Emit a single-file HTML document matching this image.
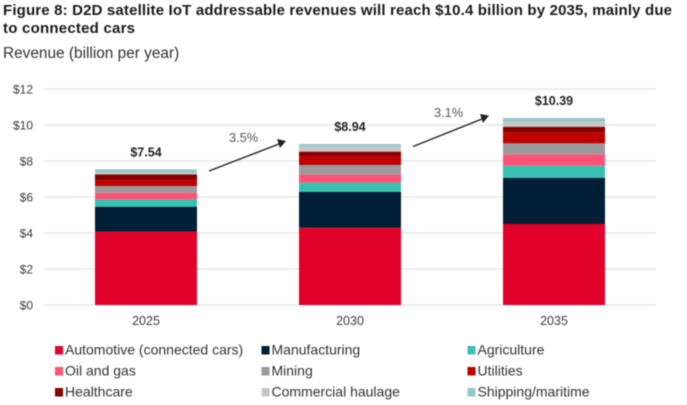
<!DOCTYPE html>
<html><head><meta charset="utf-8">
<style>
html,body{margin:0;padding:0;background:#fff;width:687px;height:405px;overflow:hidden}
svg{display:block;filter:blur(0.45px)}
text{font-family:"Liberation Sans",sans-serif}
</style></head>
<body>
<svg id="chart" width="687" height="405" viewBox="0 0 687 405" xmlns="http://www.w3.org/2000/svg">
<rect width="687" height="405" fill="#fff"/>
<text x="3" y="15" font-size="15" font-weight="bold" fill="#1a1a1a" textLength="669" lengthAdjust="spacing">Figure 8: D2D satellite IoT addressable revenues will reach $10.4 billion by 2035, mainly due</text>
<text x="3" y="33" font-size="15" font-weight="bold" fill="#1a1a1a" textLength="132" lengthAdjust="spacing">to connected cars</text>
<text x="3" y="58" font-size="15.4" fill="#333">Revenue (billion per year)</text>
<g id="plot"></g>
<g>
<line x1="209" y1="171" x2="279" y2="144" stroke="#222" stroke-width="1.4"/>
<polygon points="286,141 277,139 280,148" fill="#222"/>
<text x="229" y="142" font-size="12.8" fill="#555">3.5%</text>
<line x1="413" y1="146.5" x2="482" y2="119" stroke="#222" stroke-width="1.4"/>
<polygon points="489,115.5 480,114 483,123" fill="#222"/>
<text x="434" y="117" font-size="12.8" fill="#555">3.1%</text>
</g>
<g id="legend"></g>
</svg>
<script>
const categories = ['2025', '2030', '2035'];
const seriesNames = ['Automotive (connected cars)', 'Manufacturing', 'Agriculture', 'Oil and gas', 'Mining', 'Utilities', 'Healthcare', 'Commercial haulage', 'Shipping/maritime'];
const automotive = [4.07, 4.30, 4.50];
const manufacturing = [1.39, 1.98, 2.57];
const agriculture = [0.41, 0.52, 0.67];
const oilAndGas = [0.37, 0.46, 0.63];
const mining = [0.37, 0.52, 0.61];
const utilities = [0.33, 0.50, 0.59];
const healthcare = [0.32, 0.24, 0.33];
const commercialHaulage = [0.10, 0.28, 0.28];
const shippingMaritime = [0.18, 0.14, 0.21];
const totals = [7.54, 8.94, 10.39];
const yTicks = [0, 2, 4, 6, 8, 10, 12];
const seriesValues = [automotive, manufacturing, agriculture, oilAndGas, mining, utilities, healthcare, commercialHaulage, shippingMaritime];
const seriesColors = ['#e0002a', '#001f36', '#38c0b0', '#ff5277', '#9a9a9a', '#c00000', '#860000', '#c6c6c6', '#94c8c8'];

const NS = 'http://www.w3.org/2000/svg';
const plot = document.getElementById('plot');
const legend = document.getElementById('legend');
const y0 = 305, yPerUnit = 18;
const bandStart = 44, bandWidth = 204, barWidth = 102;
function yScale(v) { return y0 - v * yPerUnit; }
function xCenter(i) { return bandStart + bandWidth * (i + 0.5); }
function make(tag, attrs, parent, txt) {
  const el = document.createElementNS(NS, tag);
  for (const k in attrs) el.setAttribute(k, attrs[k]);
  if (txt !== undefined) el.textContent = txt;
  parent.appendChild(el);
  return el;
}
yTicks.forEach(function (t) {
  const line = make('line', { x1: 44, x2: 656, y1: yScale(t), y2: yScale(t), stroke: '#e4e4e4', 'stroke-width': 1.2 }, plot);
  
  
  const label = make('text', { x: 33, y: yScale(t) + 4.5, 'text-anchor': 'end', 'font-size': 12, fill: '#3c3c3c' }, plot, '$' + t);
  
  
});
categories.forEach(function (c, i) {
  const cx = xCenter(i);
  let acc = 0;
  seriesValues.forEach(function (vals, s) {
    const v = vals[i];
    const top = yScale(acc + v), bottom = yScale(acc);
    const bar = make('rect', { x: cx - barWidth / 2, y: top, width: barWidth, height: bottom - top, fill: seriesColors[s] }, plot);
    
    
    acc += v;
  });
  const total = make('text', { x: cx, y: yScale(totals[i]) - 13, 'text-anchor': 'middle', 'font-size': 12.5, 'font-weight': 'bold', fill: '#222' }, plot, '$' + totals[i].toFixed(2));
  
  
  const tick = make('text', { x: cx, y: 325, 'text-anchor': 'middle', 'font-size': 12.5, fill: '#3c3c3c' }, plot, c);
  
  
});
const legendCols = [55, 261.5, 467.5];
const legendRows = [354.5, 375.5, 396.5];
seriesNames.forEach(function (n, i) {
  const col = i % 3, row = Math.floor(i / 3);
  const sw = make('rect', { x: legendCols[col], y: legendRows[row] - 8.5, width: 8, height: 8.5, fill: seriesColors[i] }, legend);
  
  
  const t = make('text', { x: legendCols[col] + 10, y: legendRows[row], 'font-size': 14, fill: '#333' }, legend, n);
  
  
});
</script>
</body></html>
